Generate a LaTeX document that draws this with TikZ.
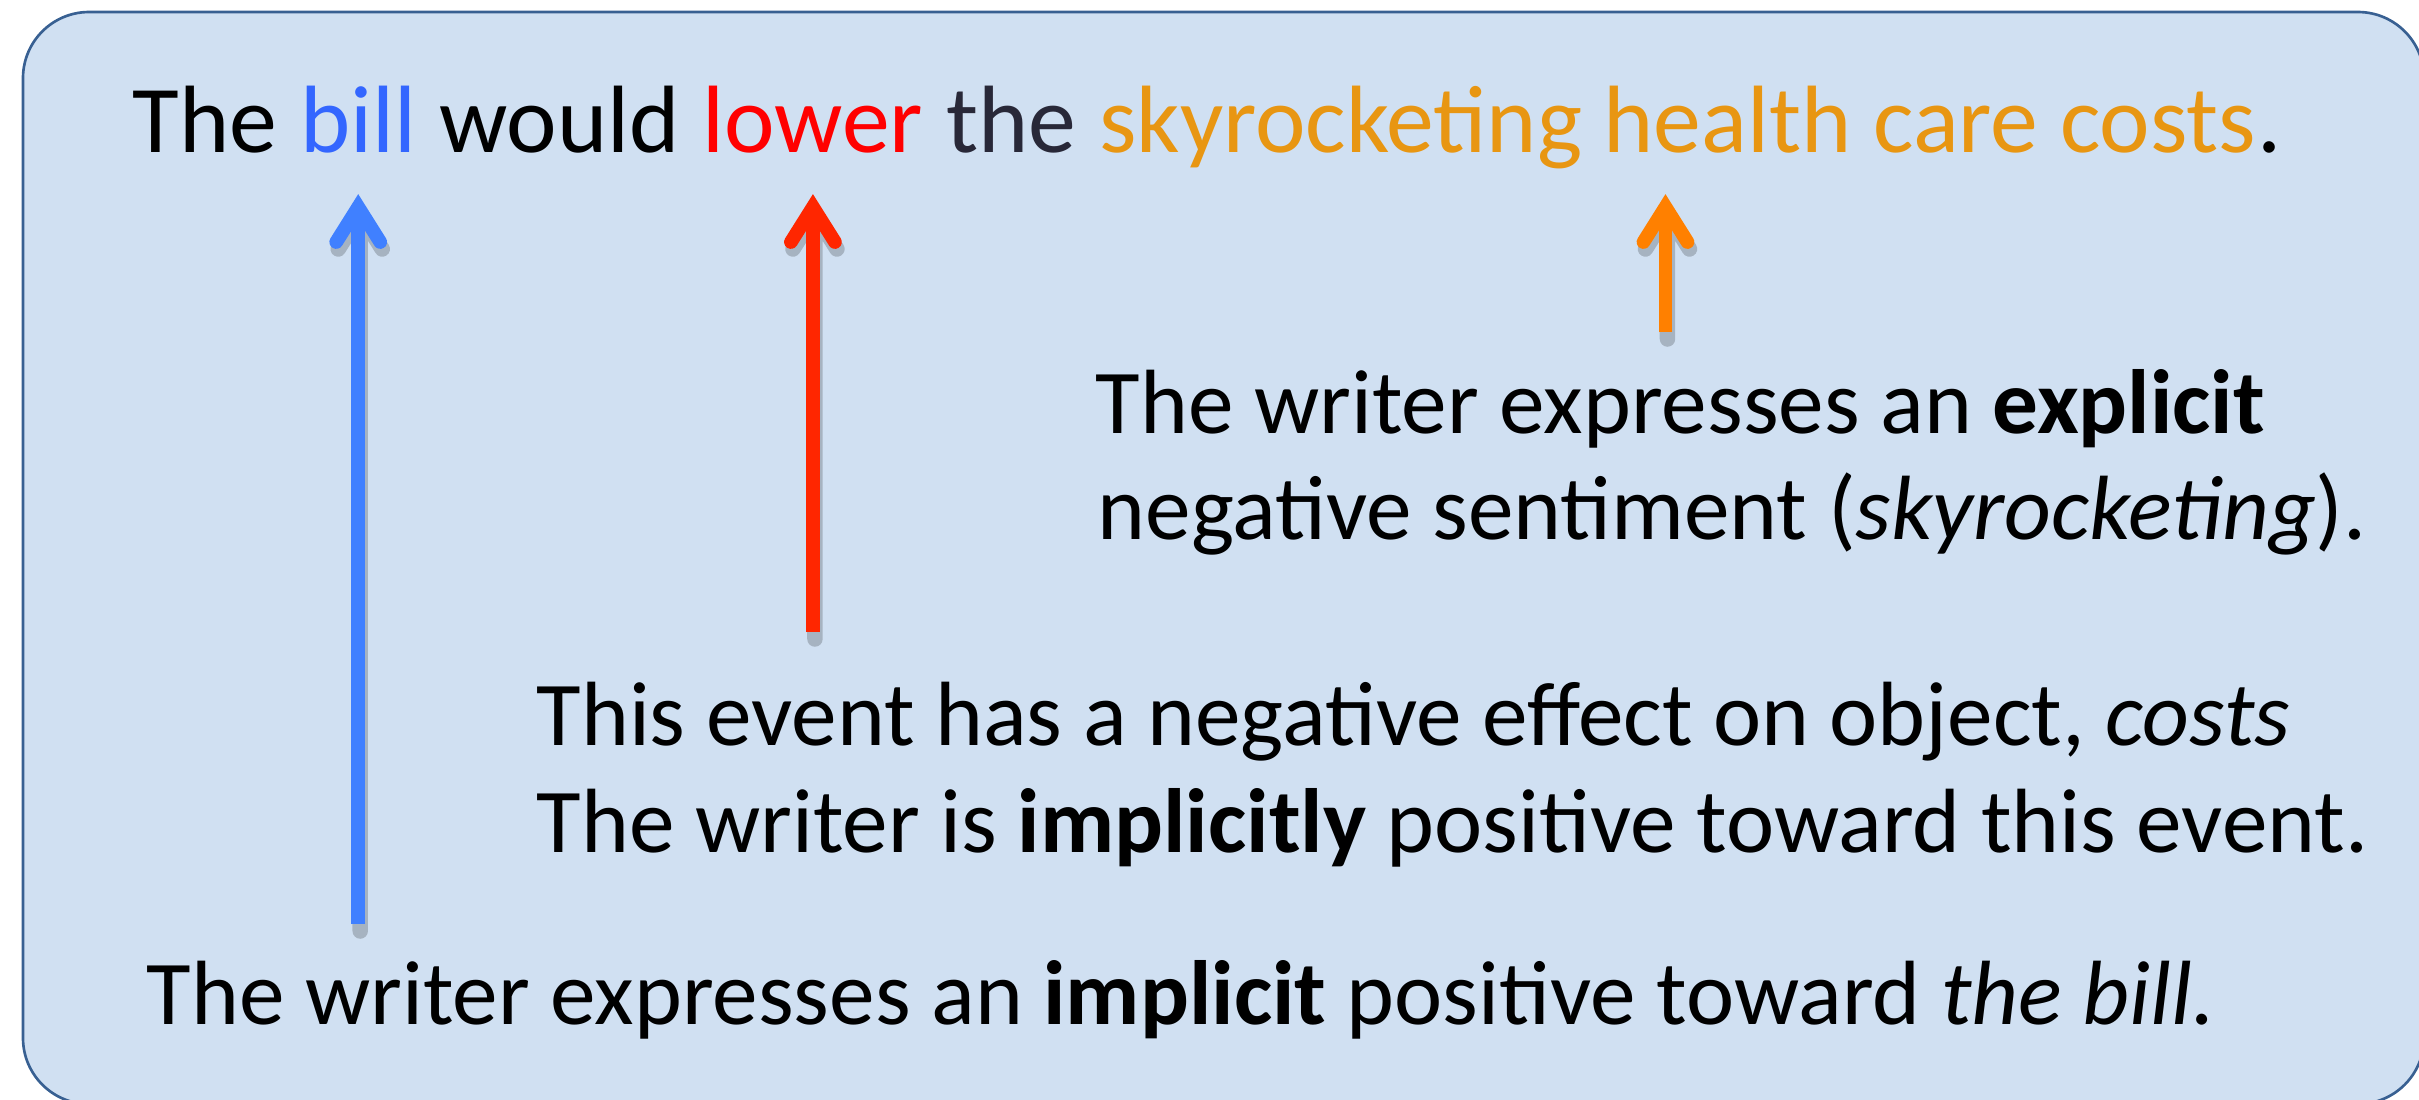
\documentclass[tikz,border=0pt]{standalone}
\usepackage{fontspec}
\setmainfont{Carlito}
\usetikzlibrary{calc}
\definecolor{boxfill}{RGB}{208,224,242}
\definecolor{boxline}{RGB}{56,96,146}
\definecolor{billblue}{RGB}{51,102,255}
\definecolor{lowerred}{RGB}{255,0,0}
\definecolor{costorange}{RGB}{232,150,18}
\definecolor{thegray}{RGB}{40,40,56}
\definecolor{arblue}{RGB}{64,128,255}
\definecolor{arred}{RGB}{255,38,0}
\definecolor{arorange}{RGB}{255,128,0}
\newcommand\drawsentarrow[3]{%
  \draw[shadowline] ([shift={(2,7)}]#3) -- ([shift={(2,7)}]#2)
      ([shift={(-20,42)}]#2) -- ([shift={(2,7)}]#2) -- ([shift={(24,42)}]#2);
  \draw[shaft, #1] (#3) -- (#2);
  \draw[headstroke, #1] ([shift={(-22,35)}]#2) -- (#2) -- ([shift={(22,35)}]#2);
}
\begin{document}
\begin{tikzpicture}[x=0.01cm,y=-0.01cm,
  bigtxt/.style={font=\fontsize{27.2}{30}\selectfont, inner sep=0, anchor=base west},
  txt/.style={font=\fontsize{25.95}{29}\selectfont, inner sep=0, anchor=base west},
  shaft/.style={line width=3.9pt},
  headstroke/.style={line width=3.9pt, line cap=round, line join=miter},
  shadowline/.style={black, opacity=0.2, line width=4.4pt, line cap=round, line join=miter}
]
\useasboundingbox (0,0) rectangle (2419,1099);
\clip (0,0) rectangle (2419,1099);
\draw[draw=boxline, fill=boxfill, line width=0.75pt, rounded corners=0.66cm]
  (23,12) rectangle (2424,1104);

% top sentence
\def\sp{21.6}
\node[bigtxt] (w1) at (132,152) {The};
\node[bigtxt, text=billblue] (bill) at ($(w1.base east)+(\sp,0)$) {bill};
\node[bigtxt] (w2) at ($(bill.base east)+(\sp,0)$) {would};
\node[bigtxt, text=lowerred] (lower) at ($(w2.base east)+(\sp,0)$) {lower};
\node[bigtxt, text=thegray] (w3) at ($(lower.base east)+(\sp,0)$) {the};
\node[bigtxt, text=costorange] (costs) at ($(w3.base east)+(\sp,0)$) {skyrocketing health care costs};
\node[bigtxt] (w4) at (costs.base east) {.};

% explanations
\node[txt] (expA) at (1095,433) {The writer expresses an \textbf{explicit}};
\node[txt] (expB) at (1097,539) {negative sentiment (\textit{skyrocketing}).};
\node[txt] (effA) at (536,745) {This event has a negative effect on object, \textit{costs}};
\node[txt] (effB) at (536,852) {The writer is \textbf{implicitly} positive toward this event.};
\node[txt] (impl) at (146,1024) {The writer expresses an \textbf{implicit} positive toward \textit{the bill.}};

% arrows
\coordinate (rowv) at (0,207);
\coordinate (bluebot) at (0,924);
\coordinate (redbot) at (0,632);
\coordinate (orbot) at (0,332);
\coordinate (bluev) at (bill.base |- rowv);
\coordinate (bluee) at (bill.base |- bluebot);
\coordinate (redv) at (lower.base |- rowv);
\coordinate (rede) at (lower.base |- redbot);
\coordinate (orx) at ($(costs.base)+(-12,0)$);
\coordinate (orv) at (orx |- rowv);
\coordinate (ore) at (orx |- orbot);
\drawsentarrow{arblue}{bluev}{bluee}
\drawsentarrow{arred}{redv}{rede}
\drawsentarrow{arorange}{orv}{ore}
\end{tikzpicture}
\end{document}
